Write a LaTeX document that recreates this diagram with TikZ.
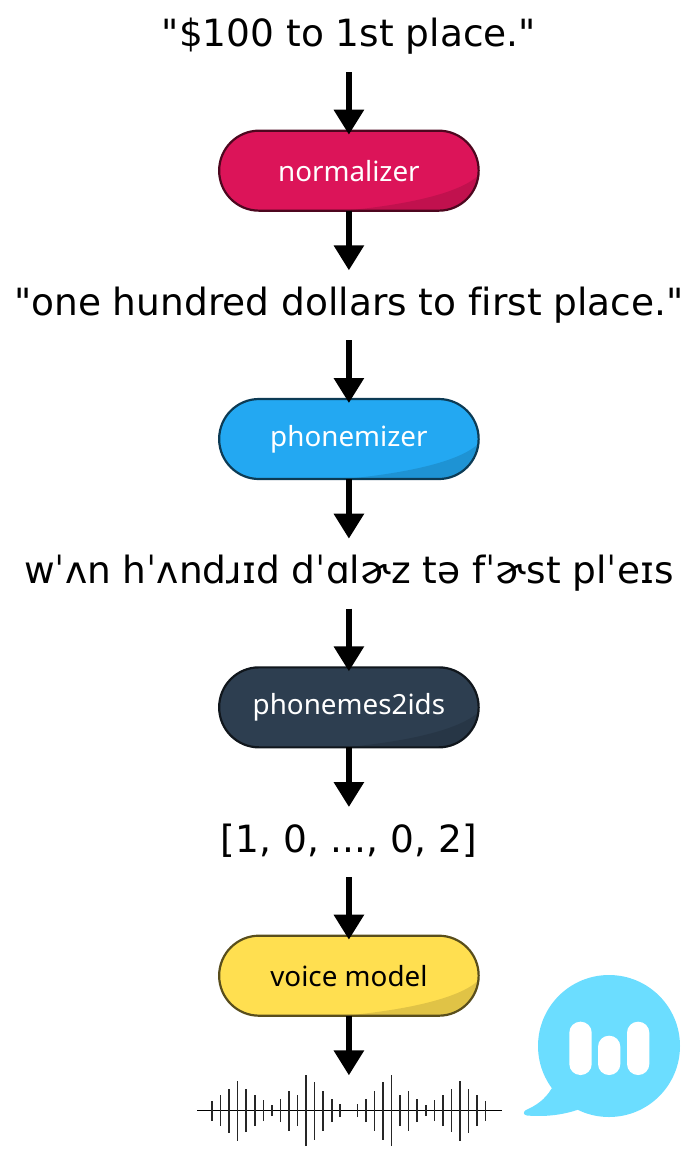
\documentclass[tikz,border=0pt]{standalone}
\usepackage{fontspec}
\setmainfont{DejaVu Sans}[Ligatures={TeXOff,NoCommon}]
\newfontfamily\boxfont{Noto Sans}
\usepackage{xcolor}
\usetikzlibrary{arrows.meta,positioning}

\definecolor{normred}{HTML}{DC1459}
\definecolor{phonblue}{HTML}{23A8F2}
\definecolor{idsdark}{HTML}{2D3E50}
\definecolor{voiceyellow}{HTML}{FFDF50}
\definecolor{bubbleblue}{HTML}{6BDDFF}

\begin{document}
\begin{tikzpicture}[
    x=1pt, y=1pt,
    node distance=58.67pt,
    textline/.style={inner sep=0pt, outer sep=0pt, text height=46pt, text depth=25pt, font=\fontsize{37.5}{37.5}\selectfont},
    pillbox/.style={rectangle, rounded corners=39.9pt, draw=#1!35!black, fill=#1, line width=2.2pt, outer sep=0pt,
        minimum width=259.5pt, minimum height=80pt, inner sep=0pt, text=white, font=\boxfont\fontsize{27.8}{27.8}\selectfont,
        path picture={\fill[black, opacity=0.12, sharp corners]
            ([xshift=125pt]path picture bounding box.south west)
            .. controls ([xshift=180pt,yshift=5pt]path picture bounding box.south west)
            and ([xshift=240pt,yshift=16pt]path picture bounding box.south west)
            .. ([xshift=260pt,yshift=36pt]path picture bounding box.south west)
            -- (path picture bounding box.south east) -- cycle;}},
    arrow/.style={-{Triangle[length=25pt,width=29pt]}, line width=6pt, shorten >=-1pt},
    arrowin/.style={arrow, shorten >=-4pt},
    wavebar/.style={line width=1.6pt, color=black!85}
]
    \useasboundingbox (0,0) rectangle (698,-1164);

    \node[textline, anchor=north] (raw) at (348.9,-1) {"\$100 to 1st place."};
    \node[pillbox=normred, below=of raw] (normalizer) {normalizer};
    \node[textline, below=of normalizer] (spoken) {"one hundred dollars to first place."};
    \node[pillbox=phonblue, below=of spoken] (phonemizer) {phonemizer};
    \node[textline, below=of phonemizer] (ipa) {wˈʌn hˈʌndɹɪd dˈɑlɚz tə fˈɚst plˈeɪs};
    \node[pillbox=idsdark, below=of ipa] (phonemes) {phonemes2ids};
    \node[textline, below=of phonemes] (ids) {[1, 0, ..., 0, 2]};
    \node[pillbox=voiceyellow, text=black, below=of ids] (voice) {voice model};
    \coordinate[below=of voice] (wavetop);

    \draw[arrowin] (raw) -- (normalizer);
    \draw[arrow] (normalizer) -- (spoken);
    \draw[arrowin] (spoken) -- (phonemizer);
    \draw[arrow] (phonemizer) -- (ipa);
    \draw[arrowin] (ipa) -- (phonemes);
    \draw[arrow] (phonemes) -- (ids);
    \draw[arrowin] (ids) -- (voice);
    \draw[arrow] (voice) -- (wavetop);

    % waveform
    \draw[line width=1.5pt] (197,-1110.7) -- (501.7,-1110.7);
    \foreach \i/\h in {1/6.5,2/11.5,3/20,4/29,5/35.5,6/15.5,7/20,8/11.5,9/5.5,10/10.5,11/15.5,12/21.5,13/30,14/22,15/15.5,16/10} {
        \draw[wavebar] (348.8-\i*8.55,-1110.7-\h) -- (348.8-\i*8.55,-1110.7+\h);
        \draw[wavebar] (348.8+\i*8.55,-1110.7-\h) -- (348.8+\i*8.55,-1110.7+\h);
    }

    % speech bubble
    \fill[bubbleblue] (609,-1046) circle (71);
    \fill[bubbleblue] (551.7,-1088.3) .. controls (545,-1100) and (535,-1106) .. (526,-1110)
        .. controls (523,-1111.5) and (523,-1115) .. (527,-1115.5)
        .. controls (545,-1117) and (562,-1115) .. (577,-1110) -- (600,-1090) -- cycle;
    \fill[white, rounded corners=11pt] (569.3,-1075) rectangle (591.7,-1021.7);
    \fill[white, rounded corners=11pt] (598,-1075) rectangle (620.3,-1035.7);
    \fill[white, rounded corners=11pt] (627,-1075) rectangle (649.3,-1021.7);
\end{tikzpicture}
\end{document}
